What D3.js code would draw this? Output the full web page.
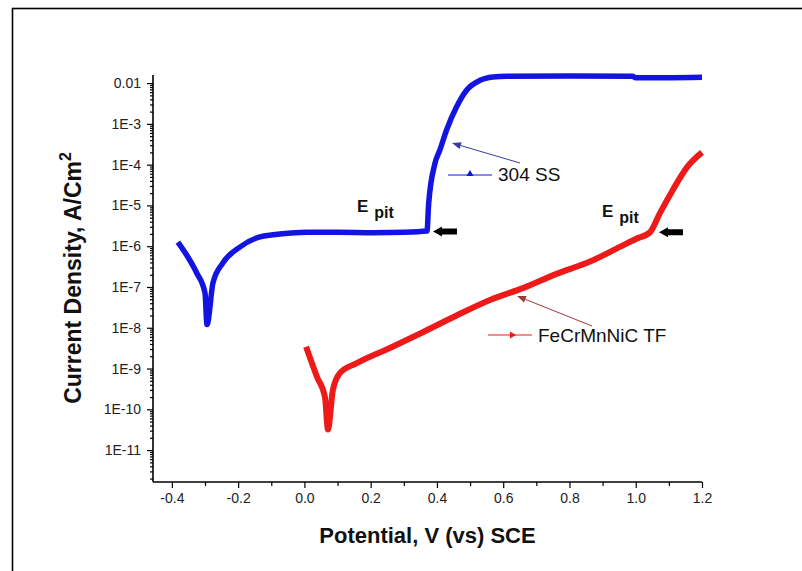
<!DOCTYPE html>
<html>
<head>
<meta charset="utf-8">
<script src="https://cdn.jsdelivr.net/npm/d3@7"></script>
<style>
  body { margin: 0; background: #fff; }
  svg { display: block; }
  text { font-family: Arial, "Liberation Sans", sans-serif; }
</style>
</head>
<body>
<svg id="chart" width="802" height="571"></svg>
<script>
// 304 SS polarisation curve (potential V vs SCE, current density A/cm2)
const ssPotential = [-0.382, -0.355, -0.325, -0.300, -0.294, -0.276, -0.246, -0.195, -0.134, -0.095,
  0.008, 0.100, 0.207, 0.300, 0.370, 0.375, 0.394, 0.409, 0.429, 0.459, 0.490, 0.530, 0.569, 0.611,
  0.800, 0.990, 1.000, 1.200];
const ssCurrent = [1.26e-6, 6.0e-7, 2.2e-7, 7.1e-8, 1.2e-8, 1.26e-7, 3.9e-7, 9.5e-7, 1.7e-6, 1.9e-6,
  2.2e-6, 2.2e-6, 2.15e-6, 2.2e-6, 2.35e-6, 1.1e-5, 1.07e-4, 2.3e-4, 7.1e-4, 2.6e-3, 6.8e-3, 1.17e-2, 1.41e-2, 1.48e-2,
  1.5e-2, 1.48e-2, 1.35e-2, 1.4e-2];

// FeCrMnNiC thin film
const tfPotential = [0.005, 0.038, 0.062, 0.071, 0.086, 0.107, 0.158, 0.258, 0.359, 0.459,
  0.560, 0.661, 0.761, 0.862, 0.952, 1.000, 1.043, 1.073, 1.112, 1.155, 1.200];
const tfCurrent = [3.4e-9, 6.2e-10, 2.0e-10, 3.2e-11, 3.0e-10, 7.7e-10, 1.35e-9, 3.2e-9, 7.9e-9, 2.0e-8,
  4.8e-8, 9.5e-8, 2.1e-7, 4.2e-7, 9.6e-7, 1.5e-6, 2.2e-6, 6.5e-6, 2.4e-5, 8.7e-5, 2.0e-4];

// pitting potentials marked with arrows
const pitPotential = [0.37, 1.043];
const pitCurrent = [2.3e-6, 2.2e-6];

const xTicks = [-0.4, -0.2, 0.0, 0.2, 0.4, 0.6, 0.8, 1.0, 1.2];
const xTickLabels = ['-0.4', '-0.2', '0.0', '0.2', '0.4', '0.6', '0.8', '1.0', '1.2'];
const yTicks = [1e-2, 1e-3, 1e-4, 1e-5, 1e-6, 1e-7, 1e-8, 1e-9, 1e-10, 1e-11];
const yTickLabels = ['0.01', '1E-3', '1E-4', '1E-5', '1E-6', '1E-7', '1E-8', '1E-9', '1E-10', '1E-11'];

const svg = d3.select('#chart');

// outer frame
svg.append('rect')
  .attr('x', 12.5).attr('y', 8.5)
  .attr('width', 820).attr('height', 600)
  .attr('fill', 'none').attr('stroke', '#000').attr('stroke-width', 1.6);

const plotLeft = 153, plotRight = 702, plotTop = 75, plotBottom = 482;

const x = d3.scaleLinear().domain([-0.457, 1.2]).range([plotLeft, plotRight]);
const y = d3.scaleLog().domain([1.65e-12, 0.0158]).range([plotBottom, plotTop]);

// minor ticks
const xMinor = d3.range(-0.4, 1.25, 0.1).map(v => +v.toFixed(2)).filter(v => !xTicks.some(t => Math.abs(t - v) < 1e-6));
const yMinor = [];
for (let e = -12; e <= -2; e++) {
  for (let m = 2; m <= 9; m++) {
    const v = m * Math.pow(10, e);
    if (v >= y.domain()[0] && v <= y.domain()[1]) yMinor.push(v);
  }
}

// x axis
const gx = svg.append('g').attr('transform', `translate(0,${plotBottom})`);
gx.call(d3.axisBottom(x).tickValues(xTicks).tickFormat((d, i) => xTickLabels[i]).tickSize(6).tickSizeOuter(0).tickPadding(5));
gx.append('g').call(d3.axisBottom(x).tickValues(xMinor).tickFormat('').tickSize(4).tickSizeOuter(0))
  .select('.domain').remove();
gx.select('.domain').attr('d', `M${plotLeft},0H${plotRight}`);

// y axis
const gy = svg.append('g').attr('transform', `translate(${plotLeft},0)`);
gy.call(d3.axisLeft(y).tickValues(yTicks).tickFormat((d, i) => yTickLabels[i]).tickSize(6).tickSizeOuter(0).tickPadding(6));
gy.append('g').call(d3.axisLeft(y).tickValues(yMinor).tickFormat('').tickSize(3).tickSizeOuter(0))
  .select('.domain').remove();
gy.select('.domain').attr('d', `M0,${plotTop}V${plotBottom}`);

svg.selectAll('.domain').attr('stroke', '#000').attr('stroke-width', 1.6);
svg.selectAll('.tick line').attr('stroke', '#000').attr('stroke-width', 1.2);
svg.selectAll('.tick text').attr('font-size', 14).attr('fill', '#222')
  .attr('font-family', 'Arial, "Liberation Sans", sans-serif');

// axis titles
svg.append('text')
  .attr('x', (plotLeft + plotRight) / 2).attr('y', 543)
  .attr('text-anchor', 'middle').attr('font-size', 22).attr('font-weight', 'bold')
  .attr('fill', '#111')
  .text('Potential, V (vs) SCE');

const yt = svg.append('text')
  .attr('transform', 'translate(81,278) rotate(-90)')
  .attr('text-anchor', 'middle').attr('font-size', 23).attr('font-weight', 'bold')
  .attr('fill', '#111');
yt.append('tspan').text('Current Density, A/Cm');
yt.append('tspan').attr('dy', -10).attr('font-size', 16).text('2');

// curves
const line = d3.line()
  .x(d => x(d[0]))
  .y(d => y(d[1]))
  .curve(d3.curveMonotoneX);

const ssData = ssPotential.map((v, i) => [v, ssCurrent[i]]);
const tfData = tfPotential.map((v, i) => [v, tfCurrent[i]]);

svg.append('path')
  .datum(ssData)
  .attr('d', line)
  .attr('fill', 'none').attr('stroke', '#1414e0').attr('stroke-width', 5.5)
  .attr('stroke-linejoin', 'round');

svg.append('path')
  .datum(tfData)
  .attr('d', line)
  .attr('fill', 'none').attr('stroke', '#ee1a1a').attr('stroke-width', 6)
  .attr('stroke-linejoin', 'round');

// E pit labels and black arrows
const pitLabels = [
  { dx: -70, dy: -19 },
  { dx: -48, dy: -15 }
];
pitPotential.forEach((p, i) => {
  const px = x(p), py = y(pitCurrent[i]);
  const t = svg.append('text')
    .attr('x', px + pitLabels[i].dx).attr('y', py + pitLabels[i].dy)
    .attr('font-size', 17).attr('font-weight', 'bold').attr('fill', '#111');
  t.append('tspan').text('E');
  t.append('tspan').attr('dx', 6).attr('dy', 6).attr('font-size', 16).text('pit');

  const ax = px + 6 + (i === 1 ? 3 : 0);
  svg.append('path')
    .attr('d', `M${ax},${py}L${ax + 9},${py - 5}L${ax + 9},${py - 3}L${ax + 24},${py - 3}L${ax + 24},${py + 3}L${ax + 9},${py + 3}L${ax + 9},${py + 5}Z`)
    .attr('fill', '#000');
});

// legend labels with pointer arrows
function pointer(x1, y1, x2, y2, color) {
  const ang = Math.atan2(y2 - y1, x2 - x1);
  const len = 9, w = 3.5;
  const bx = x2 - len * Math.cos(ang), by = y2 - len * Math.sin(ang);
  svg.append('line')
    .attr('x1', x1).attr('y1', y1).attr('x2', bx).attr('y2', by)
    .attr('stroke', color).attr('stroke-width', 1);
  svg.append('path')
    .attr('d', `M${x2},${y2}L${bx + w * Math.sin(ang)},${by - w * Math.cos(ang)}L${bx - w * Math.sin(ang)},${by + w * Math.cos(ang)}Z`)
    .attr('fill', color);
}

pointer(520, 163, 452, 143, '#3a3aa8');
pointer(592, 326, 517, 296, '#a03838');

// 304 SS legend entry
svg.append('line').attr('x1', 448).attr('x2', 492).attr('y1', 175).attr('y2', 175)
  .attr('stroke', '#1414e0').attr('stroke-width', 1);
svg.append('path').attr('d', d3.symbol(d3.symbolTriangle, 22)())
  .attr('transform', 'translate(470,174)').attr('fill', '#1414e0');
svg.append('text').attr('x', 498).attr('y', 181).attr('font-size', 19).attr('fill', '#111').text('304 SS');

// FeCrMnNiC TF legend entry
svg.append('line').attr('x1', 488).attr('x2', 532).attr('y1', 335).attr('y2', 335)
  .attr('stroke', '#ee1a1a').attr('stroke-width', 1);
svg.append('path').attr('d', d3.symbol(d3.symbolTriangle, 22)())
  .attr('transform', 'translate(512,335) rotate(90)').attr('fill', '#ee1a1a');
svg.append('text').attr('x', 538).attr('y', 342).attr('font-size', 19).attr('fill', '#111').text('FeCrMnNiC TF');
</script>
</body>
</html>
